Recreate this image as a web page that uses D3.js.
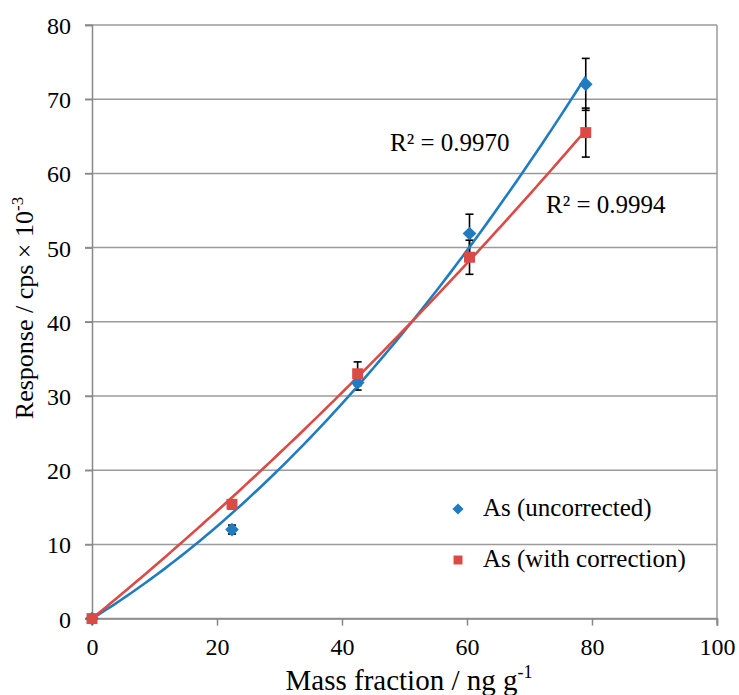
<!DOCTYPE html>
<html>
<head>
<meta charset="utf-8">
<script src="https://cdn.jsdelivr.net/npm/d3@7"></script>
<style>
  body { margin: 0; background: #fff; }
  svg text { font-family: "Liberation Serif", "Times New Roman", serif; fill: #000; }
</style>
</head>
<body>
<svg id="chart" width="739" height="695"></svg>
<script>
// mass fractions (ng/g) of the calibration standards
const massFraction = [0, 22.4, 42.5, 60.4, 79.0];

// response, cps x 10^-3
const uncorrected = [0, 12.0, 31.8, 51.9, 72.0];
const uncorrectedErr = [0, 0.6, 1.0, 2.6, 3.5];
const corrected = [0, 15.4, 33.0, 48.7, 65.5];
const correctedErr = [0, 0.6, 1.6, 2.3, 3.3];

const seriesNames = ['As (uncorrected)', 'As (with correction)'];
const rSquared = ['R² = 0.9970', 'R² = 0.9994'];

const xTicks = [0, 20, 40, 60, 80, 100];
const yTicks = [0, 10, 20, 30, 40, 50, 60, 70, 80];

const blue = '#1f7cc1';
const red = '#dc4a46';

const svg = d3.select('#chart');
const plotLeft = 92, plotRight = 717, plotTop = 25, plotBottom = 618.6;

const x = d3.scaleLinear().domain([0, 100]).range([plotLeft, plotRight]);
const y = d3.scaleLinear().domain([0, 80]).range([plotBottom, plotTop]);

// 2nd order polynomial trendline forced through origin (least squares)
function fitQuad(xs, ys) {
  let s2 = 0, s3 = 0, s4 = 0, sxy = 0, sx2y = 0;
  xs.forEach((v, i) => {
    s2 += v * v; s3 += v ** 3; s4 += v ** 4;
    sxy += v * ys[i]; sx2y += v * v * ys[i];
  });
  const det = s4 * s2 - s3 * s3;
  const a = (sx2y * s2 - s3 * sxy) / det;
  const b = (s4 * sxy - s3 * sx2y) / det;
  return t => a * t * t + b * t;
}

// gridlines
svg.append('g')
  .selectAll('line')
  .data(yTicks)
  .join('line')
  .attr('x1', plotLeft - 7).attr('x2', plotRight)
  .attr('y1', d => y(d)).attr('y2', d => y(d))
  .attr('stroke', '#9a9a9a').attr('stroke-width', 1.5);

// plot border on right
svg.append('line')
  .attr('x1', plotRight).attr('x2', plotRight).attr('y1', plotTop).attr('y2', plotBottom + 7)
  .attr('stroke', '#9a9a9a').attr('stroke-width', 1.5);

// axes
const xAxis = svg.append('g')
  .attr('transform', `translate(0,${plotBottom})`)
  .call(d3.axisBottom(x).tickValues(xTicks).tickSize(7).tickPadding(10));
const yAxis = svg.append('g')
  .attr('transform', `translate(${plotLeft},0)`)
  .call(d3.axisLeft(y).tickValues(yTicks).tickSize(7).tickPadding(14));

[xAxis, yAxis].forEach(g => {
  g.select('.domain').attr('stroke', '#888').attr('stroke-width', 1.5);
  g.selectAll('.tick line').attr('stroke', '#888').attr('stroke-width', 1.5);
  g.selectAll('.tick text').style('font-size', '24px').attr('fill', '#000')
    .style('font-family', '"Liberation Serif", serif');
});
yAxis.selectAll('.tick text').attr('dy', '0.35em');
xAxis.selectAll('.tick text').attr('dy', '0.8em');

const series = [
  { vals: uncorrected, err: uncorrectedErr, color: blue, shape: d3.symbolDiamond2 },
  { vals: corrected, err: correctedErr, color: red, shape: d3.symbolSquare }
];

// error bars
series.forEach(s => {
  const g = svg.append('g').attr('stroke', '#000').attr('stroke-width', 1.6);
  massFraction.forEach((m, i) => {
    if (!s.err[i]) return;
    const cx = x(m), y1 = y(s.vals[i] + s.err[i]), y2 = y(s.vals[i] - s.err[i]);
    g.append('line').attr('x1', cx).attr('x2', cx).attr('y1', y1).attr('y2', y2);
    g.append('line').attr('x1', cx - 4).attr('x2', cx + 4).attr('y1', y1).attr('y2', y1);
    g.append('line').attr('x1', cx - 4).attr('x2', cx + 4).attr('y1', y2).attr('y2', y2);
  });
});

// trendlines
const line = d3.line().x(d => x(d[0])).y(d => y(d[1]));
series.forEach(s => {
  const f = fitQuad(massFraction, s.vals);
  const xmax = d3.max(massFraction);
  const pts = d3.range(0, 101).map(k => [k / 100 * xmax, f(k / 100 * xmax)]);
  svg.append('path')
    .attr('d', line(pts))
    .attr('fill', 'none')
    .attr('stroke', s.color)
    .attr('stroke-width', 2.6);
});

// markers
series.forEach(s => {
  svg.append('g')
    .selectAll('path')
    .data(massFraction)
    .join('path')
    .attr('transform', (d, i) => `translate(${x(d)},${y(s.vals[i])})`)
    .attr('d', d3.symbol().type(s.shape).size(s.shape === d3.symbolSquare ? 120 : 120))
    .attr('fill', s.color);
});

// R² labels
svg.append('text').attr('x', 390).attr('y', 151).style('font-size', '25px').text(rSquared[0]);
svg.append('text').attr('x', 546).attr('y', 213).style('font-size', '25px').text(rSquared[1]);

// legend
const legend = svg.append('g');
series.forEach((s, i) => {
  const ly = 509 + i * 51;
  legend.append('path')
    .attr('transform', `translate(458,${ly})`)
    .attr('d', d3.symbol().type(s.shape).size(s.shape === d3.symbolSquare ? 80 : 80))
    .attr('fill', s.color);
  legend.append('text')
    .attr('x', 483).attr('y', ly + 7)
    .style('font-size', '25px')
    .text(seriesNames[i]);
});

// axis titles
const xt = svg.append('text')
  .attr('x', 409).attr('y', 690)
  .attr('text-anchor', 'middle')
  .style('font-size', '29px');
xt.append('tspan').text('Mass fraction / ng g');
xt.append('tspan').attr('dy', -12).style('font-size', '18px').text('-1');

const yt = svg.append('text')
  .attr('transform', 'translate(33,308) rotate(-90)')
  .attr('text-anchor', 'middle')
  .style('font-size', '26px');
yt.append('tspan').text('Response / cps × 10');
yt.append('tspan').attr('dy', -10).style('font-size', '17px').text('-3');
</script>
</body>
</html>
